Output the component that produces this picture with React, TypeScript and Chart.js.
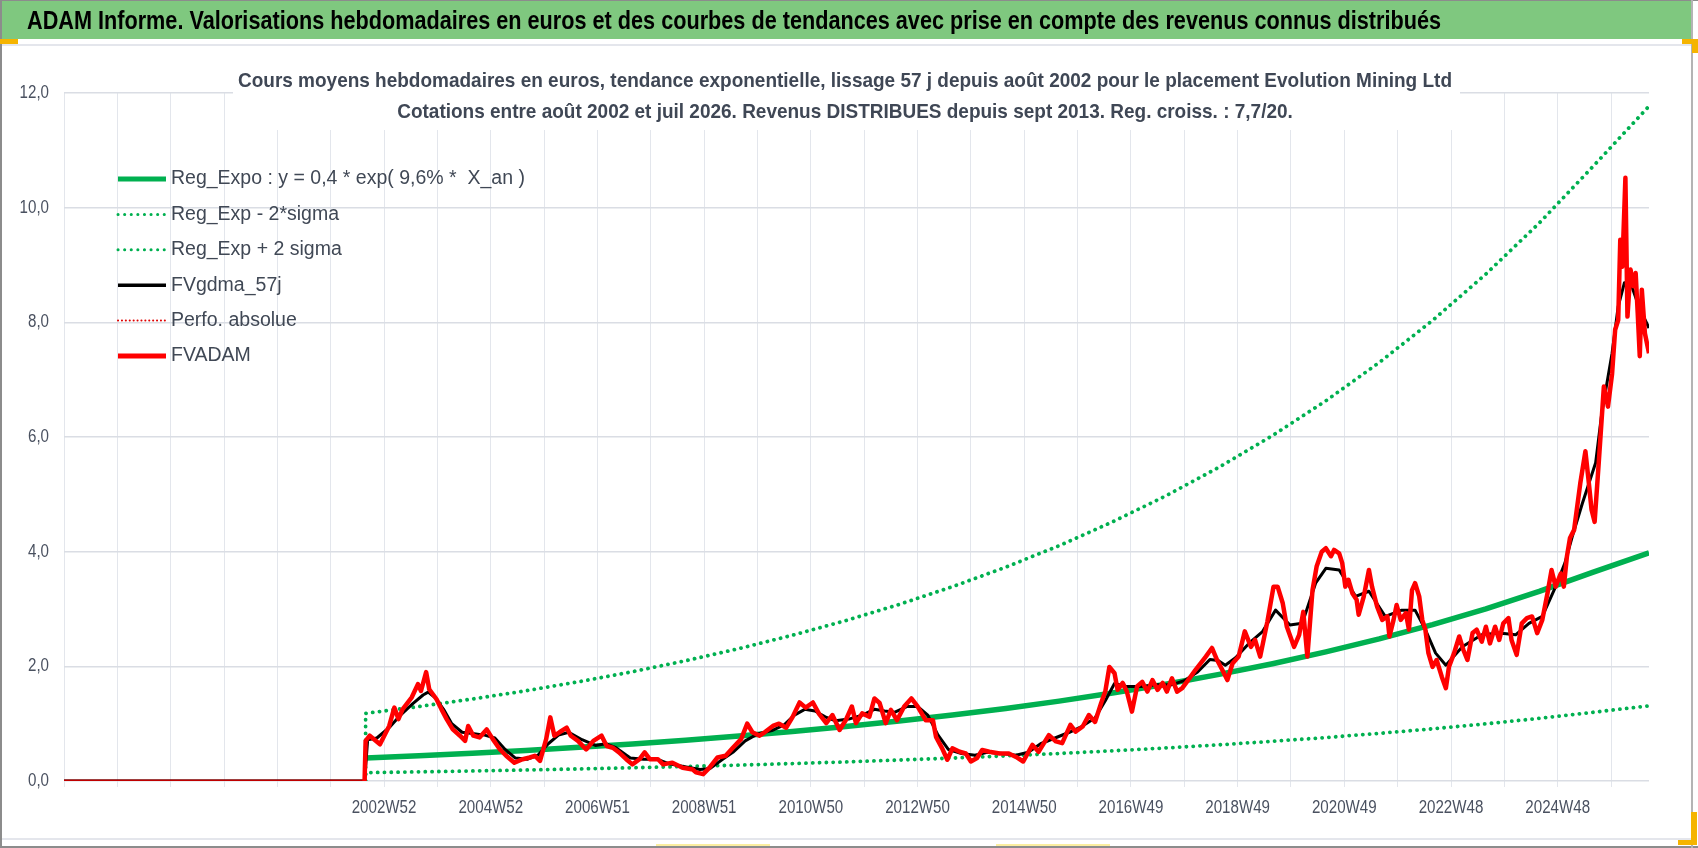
import { useEffect, useRef } from "react";
import { Chart, registerables } from "chart.js";

Chart.register(...registerables);

const W = 1698;
const H = 848;

const headerTitle =
  "ADAM Informe. Valorisations hebdomadaires en euros et des courbes de tendances avec prise en compte des revenus connus distribués";
const subTitle1 =
  "Cours moyens hebdomadaires en euros, tendance exponentielle, lissage 57 j depuis août 2002 pour le placement Evolution Mining Ltd";
const subTitle2 =
  "Cotations entre août 2002 et juil 2026. Revenus DISTRIBUES depuis sept 2013. Reg. croiss. : 7,7/20.";

// x axis: week index from the first category; one gridline every 52 weeks
const axisWeeks = 1545;
const weeksPerGridline = 52;
const xTickLabels = [
  "", "", "", "", "", "", "2002W52", "", "2004W52", "", "2006W51", "", "2008W51", "",
  "2010W50", "", "2012W50", "", "2014W50", "", "2016W49", "", "2018W49", "", "2020W49",
  "", "2022W48", "", "2024W48", "",
];
const yTicks = [0, 2, 4, 6, 8, 10, 12];

// trend curves, read once a year (week index of each reading)
const trendWeeks = [
  294, 346, 398, 450, 502, 554, 606, 658, 710, 762, 814, 866, 918, 970, 1022, 1074, 1126,
  1178, 1230, 1282, 1334, 1386, 1438, 1490, 1545,
];
const regExpo = [
  0.4, 0.44, 0.485, 0.534, 0.587, 0.646, 0.712, 0.783, 0.862, 0.949, 1.045, 1.15, 1.266,
  1.393, 1.534, 1.688, 1.859, 2.046, 2.252, 2.479, 2.729, 3.004, 3.306, 3.639, 3.98,
];
const regMinus2Sigma = [
  0.146, 0.16, 0.175, 0.192, 0.211, 0.231, 0.253, 0.277, 0.304, 0.333, 0.365, 0.399, 0.438,
  0.48, 0.526, 0.576, 0.631, 0.692, 0.758, 0.831, 0.91, 0.997, 1.093, 1.198, 1.31,
];
const regPlus2Sigma = [
  1.18, 1.299, 1.43, 1.573, 1.732, 1.906, 2.098, 2.309, 2.542, 2.797, 3.079, 3.389, 3.73,
  4.105, 4.519, 4.973, 5.474, 6.025, 6.631, 7.299, 8.033, 8.842, 9.732, 10.711, 11.77,
];

// FVADAM weekly valuation, [week index, euros]
const fvadam: [number, number][] = [
  [0, 0], [293, 0], [294, 0.7], [298, 0.79], [308, 0.64], [317, 0.96], [322, 1.28], [326, 1.08],
  [330, 1.25], [339, 1.46], [345, 1.69], [348, 1.57], [353, 1.9], [356, 1.6], [363, 1.43],
  [368, 1.25], [373, 1.08], [379, 0.9], [386, 0.79], [391, 0.7], [394, 0.96], [399, 0.79],
  [405, 0.76], [412, 0.9], [418, 0.73], [425, 0.55], [431, 0.44], [439, 0.32], [447, 0.38],
  [454, 0.41], [459, 0.44], [464, 0.35], [470, 0.73], [474, 1.11], [478, 0.79], [483, 0.85],
  [490, 0.93], [494, 0.79], [501, 0.7], [509, 0.55], [516, 0.7], [524, 0.79], [529, 0.61],
  [535, 0.58], [541, 0.5], [548, 0.38], [554, 0.29], [561, 0.38], [566, 0.5], [571, 0.38],
  [579, 0.38], [584, 0.29], [593, 0.32], [603, 0.23], [613, 0.2], [616, 0.15], [623, 0.12],
  [629, 0.23], [637, 0.41], [645, 0.44], [652, 0.58], [660, 0.73], [666, 1.0], [671, 0.85],
  [678, 0.79], [683, 0.85], [691, 0.96], [697, 1.0], [704, 0.93], [710, 1.11], [717, 1.37],
  [723, 1.28], [730, 1.37], [736, 1.17], [743, 1.01], [749, 1.15], [756, 0.89], [762, 1.06],
  [768, 1.3], [772, 1.01], [778, 1.18], [785, 1.12], [790, 1.44], [795, 1.36], [801, 1.01],
  [806, 1.24], [812, 1.06], [819, 1.3], [826, 1.44], [832, 1.3], [840, 1.06], [847, 1.06],
  [850, 0.77], [856, 0.57], [861, 0.37], [866, 0.57], [873, 0.51], [879, 0.48], [884, 0.34],
  [890, 0.4], [895, 0.54], [902, 0.51], [912, 0.48], [921, 0.48], [928, 0.42], [935, 0.34],
  [944, 0.63], [950, 0.51], [960, 0.8], [967, 0.69], [973, 0.66], [981, 0.98], [986, 0.86],
  [993, 0.95], [999, 1.15], [1005, 1.03], [1011, 1.36], [1015, 1.56], [1019, 1.99],
  [1024, 1.88], [1027, 1.59], [1032, 1.71], [1036, 1.56], [1041, 1.21], [1046, 1.65],
  [1051, 1.73], [1056, 1.56], [1061, 1.76], [1066, 1.59], [1071, 1.71], [1075, 1.56],
  [1080, 1.79], [1085, 1.56], [1090, 1.62], [1097, 1.79], [1103, 1.94], [1113, 2.17],
  [1119, 2.32], [1124, 2.11], [1129, 1.94], [1134, 1.76], [1139, 2.05], [1145, 2.17],
  [1151, 2.61], [1157, 2.34], [1161, 2.46], [1166, 2.17], [1173, 2.78], [1179, 3.39],
  [1183, 3.39], [1188, 3.1], [1192, 2.69], [1199, 2.34], [1204, 2.55], [1208, 2.95],
  [1212, 2.17], [1217, 3.33], [1221, 3.74], [1226, 4.0], [1230, 4.06], [1235, 3.92],
  [1238, 4.03], [1243, 3.97], [1246, 3.8], [1249, 3.39], [1252, 3.51], [1256, 3.27],
  [1260, 3.16], [1262, 2.9], [1267, 3.22], [1272, 3.68], [1275, 3.39], [1280, 3.04],
  [1285, 2.81], [1290, 2.87], [1292, 2.52], [1296, 2.81], [1299, 3.07], [1303, 2.81],
  [1308, 2.93], [1311, 2.64], [1314, 3.33], [1317, 3.45], [1321, 3.22], [1324, 2.81],
  [1327, 2.64], [1330, 2.23], [1334, 1.99], [1338, 2.11], [1343, 1.82], [1347, 1.62],
  [1350, 1.99], [1355, 2.23], [1360, 2.52], [1364, 2.29], [1368, 2.11], [1373, 2.58],
  [1377, 2.64], [1382, 2.43], [1386, 2.69], [1390, 2.4], [1395, 2.69], [1399, 2.46],
  [1403, 2.75], [1408, 2.84], [1411, 2.46], [1416, 2.2], [1421, 2.75], [1426, 2.84],
  [1431, 2.87], [1436, 2.58], [1441, 2.81], [1446, 3.27], [1450, 3.68], [1454, 3.39],
  [1459, 3.62], [1462, 3.39], [1465, 3.92], [1468, 4.24], [1472, 4.38], [1478, 5.19],
  [1483, 5.75], [1486, 5.26], [1489, 4.73], [1492, 4.52], [1496, 5.55], [1501, 6.88],
  [1505, 6.53], [1509, 7.1], [1512, 7.87], [1515, 8.04], [1517, 9.44], [1519, 8.97],
  [1522, 10.52], [1524, 8.1], [1527, 8.92], [1530, 8.63], [1532, 8.86], [1534, 8.16],
  [1536, 7.41], [1538, 8.57], [1541, 7.81], [1545, 7.46],
];

// FVgdma_57j smoothed valuation, [week index, euros]
const fvgdma57: [number, number][] = [
  [0, 0], [293, 0], [296, 0.72], [305, 0.75], [318, 0.95], [328, 1.15], [340, 1.35],
  [350, 1.5], [355, 1.55], [362, 1.45], [370, 1.25], [378, 1.0], [388, 0.85], [398, 0.83],
  [410, 0.8], [420, 0.75], [430, 0.55], [440, 0.4], [452, 0.38], [462, 0.45], [472, 0.65],
  [482, 0.8], [492, 0.85], [505, 0.72], [518, 0.62], [528, 0.65], [538, 0.58], [552, 0.4],
  [565, 0.38], [578, 0.38], [590, 0.3], [605, 0.25], [620, 0.2], [630, 0.22], [642, 0.38],
  [652, 0.5], [664, 0.7], [676, 0.82], [690, 0.88], [702, 0.98], [712, 1.15], [722, 1.25],
  [732, 1.22], [742, 1.12], [752, 1.05], [765, 1.08], [778, 1.15], [790, 1.25], [800, 1.22],
  [810, 1.2], [822, 1.3], [832, 1.3], [842, 1.15], [852, 0.8], [862, 0.55], [875, 0.48],
  [888, 0.45], [900, 0.5], [915, 0.48], [928, 0.45], [940, 0.5], [952, 0.65], [966, 0.75],
  [980, 0.85], [992, 0.95], [1005, 1.1], [1015, 1.4], [1024, 1.7], [1035, 1.65],
  [1050, 1.65], [1065, 1.68], [1080, 1.68], [1092, 1.75], [1105, 1.9], [1117, 2.12],
  [1125, 2.1], [1132, 2.02], [1142, 2.15], [1155, 2.4], [1168, 2.6], [1181, 2.98],
  [1195, 2.72], [1207, 2.75], [1220, 3.45], [1230, 3.71], [1243, 3.68], [1259, 3.22],
  [1272, 3.31], [1288, 2.87], [1304, 2.98], [1317, 2.98], [1327, 2.64], [1337, 2.23],
  [1347, 2.02], [1363, 2.34], [1382, 2.55], [1399, 2.58], [1415, 2.55], [1428, 2.75],
  [1441, 2.87], [1454, 3.39], [1463, 3.8], [1470, 4.25], [1480, 4.84], [1493, 5.55],
  [1499, 6.42], [1509, 7.46], [1515, 8.28], [1521, 8.69], [1527, 8.69], [1535, 8.28],
  [1545, 7.9],
];

// Perfo. absolue: only visible along the zero line before the first quotation
const perfoAbsolue: [number, number][] = [
  [0, 0], [293, 0],
];

const toXY = (pts: [number, number][]) => pts.map(([x, y]) => ({ x, y }));
const trendXY = (vals: number[]) => vals.map((y, i) => ({ x: trendWeeks[i], y }));

const GREEN = "#00b050";
const RED = "#ff0000";
const DARK_RED = "#c00000";
const TEXT = "#404855";
const TICK_COLOR = "#4a5160";
const TEXT_FONT = "'Liberation Sans', Arial, sans-serif";
const NARROW = 0.84;

const framePlugin = {
  id: "frame",
  beforeDraw(chart: any) {
    const ctx = chart.ctx as CanvasRenderingContext2D;
    ctx.save();
    ctx.fillStyle = "#ffffff";
    ctx.fillRect(0, 0, W, H);
    // green header band
    ctx.fillStyle = "#7fc87f";
    ctx.fillRect(0, 0, 1692, 39);
    ctx.fillStyle = "#000000";
    ctx.font = `bold 26px ${TEXT_FONT}`;
    ctx.textBaseline = "middle";
    ctx.textAlign = "left";
    ctx.fillText(headerTitle, 27, 22, 1414);
    // light separators
    ctx.fillStyle = "#e4e6ec";
    ctx.fillRect(0, 44, 1692, 2);
    ctx.fillRect(0, 838, 1692, 2);
    // outer borders
    ctx.fillStyle = "#8c8c8c";
    ctx.fillRect(0, 0, W, 1);
    ctx.fillRect(0, 0, 2, H);
    ctx.fillRect(0, 846, W, 2);
    ctx.fillStyle = "#b4b4b4";
    ctx.fillRect(1691, 0, 2, H);
    // selection handles
    ctx.fillStyle = "#f5b400";
    ctx.fillRect(0, 39, 18, 5);
    ctx.fillRect(1682, 39, 16, 5);
    ctx.fillRect(1692, 39, 6, 14);
    ctx.fillRect(1691, 812, 6, 33);
    ctx.fillRect(1678, 840, 19, 5);
    ctx.fillStyle = "#fbeea0";
    ctx.fillRect(656, 844, 114, 2);
    ctx.fillRect(996, 844, 114, 2);
    ctx.restore();
  },
};

// tick labels drawn through the scales, in a condensed face like the original
const tickLabelPlugin = {
  id: "tickLabels",
  afterDraw(chart: any) {
    const ctx = chart.ctx as CanvasRenderingContext2D;
    const xs = chart.scales.x;
    const ys = chart.scales.y;
    ctx.save();
    ctx.fillStyle = TICK_COLOR;
    ctx.font = `18px ${TEXT_FONT}`;
    ctx.textBaseline = "middle";
    ctx.textAlign = "center";
    xTickLabels.forEach((lab, i) => {
      if (!lab) return;
      const px = xs.getPixelForValue(i * weeksPerGridline);
      const w = ctx.measureText(lab).width;
      ctx.fillText(lab, px, chart.chartArea.bottom + 27, w * NARROW);
    });
    ctx.textAlign = "right";
    yTicks.forEach((v) => {
      const lab = v.toFixed(1).replace(".", ",");
      const py = ys.getPixelForValue(v);
      const w = ctx.measureText(lab).width;
      ctx.fillText(lab, chart.chartArea.left - 15, py, w * NARROW);
    });
    ctx.restore();
  },
};

const titlePlugin = {
  id: "titleBox",
  beforeDatasetsDraw(chart: any) {
    const ctx = chart.ctx as CanvasRenderingContext2D;
    ctx.save();
    ctx.fillStyle = "#ffffff";
    ctx.fillRect(233, 56, 1227, 74);
    ctx.fillStyle = "#3f4755";
    ctx.font = `bold 21px ${TEXT_FONT}`;
    ctx.textAlign = "center";
    ctx.textBaseline = "middle";
    const w1 = ctx.measureText(subTitle1).width;
    const ratio = Math.min(1, 1214 / w1);
    const w2 = ctx.measureText(subTitle2).width;
    ctx.fillText(subTitle1, 845, 81, w1 * ratio);
    ctx.fillText(subTitle2, 845, 112, w2 * ratio);
    ctx.restore();
  },
};

const legendPlugin = {
  id: "sideLegend",
  afterDraw(chart: any) {
    const ctx = chart.ctx as CanvasRenderingContext2D;
    const a = chart.chartArea;
    const x0 = a.left + 54;
    const x1 = a.left + 102;
    const tx = a.left + 107;
    chart.data.datasets.forEach((ds: any, i: number) => {
      const y = a.top + 86 + i * 35.4;
      ctx.save();
      ctx.strokeStyle = ds.legendColor || ds.borderColor;
      ctx.lineWidth = ds.legendWidth;
      ctx.lineCap = ds.legendDash ? "round" : "butt";
      ctx.setLineDash(ds.legendDash || []);
      ctx.beginPath();
      ctx.moveTo(x0, y);
      ctx.lineTo(x1, y);
      ctx.stroke();
      ctx.setLineDash([]);
      ctx.fillStyle = TEXT;
      ctx.font = `19.5px ${TEXT_FONT}`;
      ctx.textAlign = "left";
      ctx.textBaseline = "middle";
      ctx.fillText(ds.label, tx, y);
      ctx.restore();
    });
  },
};

export default function App() {
  const ref = useRef<HTMLCanvasElement>(null);

  useEffect(() => {
    document.body.style.margin = "0";
    const canvas = ref.current;
    if (!canvas) return;
    const chart = new Chart(canvas, {
      type: "line",
      data: {
        datasets: [
          {
            label: "Reg_Expo : y = 0,4 * exp( 9,6% *  X_an )",
            data: trendXY(regExpo),
            borderColor: GREEN,
            borderWidth: 5.5,
            order: 3,
            legendWidth: 5,
          } as any,
          {
            label: "Reg_Exp - 2*sigma",
            data: [{ x: 294, y: 0 }, ...trendXY(regMinus2Sigma)],
            borderColor: GREEN,
            borderWidth: 3.8,
            borderDash: [0.1, 6.7],
            borderCapStyle: "round",
            order: 4,
            legendWidth: 3,
            legendDash: [0.1, 6.5],
          } as any,
          {
            label: "Reg_Exp + 2 sigma",
            data: [{ x: 294, y: 0 }, ...trendXY(regPlus2Sigma)],
            borderColor: GREEN,
            borderWidth: 3.8,
            borderDash: [0.1, 6.7],
            borderCapStyle: "round",
            order: 5,
            legendWidth: 3,
            legendDash: [0.1, 6.5],
          } as any,
          {
            label: "FVgdma_57j",
            data: toXY(fvgdma57),
            borderColor: "#000000",
            borderWidth: 3,
            order: 2,
            legendWidth: 3.5,
          } as any,
          {
            label: "Perfo. absolue",
            data: toXY(perfoAbsolue),
            borderColor: DARK_RED,
            borderWidth: 2,
            borderDash: [0.1, 3.6],
            borderCapStyle: "round",
            order: 1,
            legendColor: "#e00000",
            legendWidth: 2,
            legendDash: [0.1, 3.8],
          } as any,
          {
            label: "FVADAM",
            data: toXY(fvadam),
            borderColor: RED,
            borderWidth: 4.5,
            order: 0,
            legendWidth: 5,
            segment: {
              borderColor: (c: any) =>
                c.p0.parsed.y === 0 && c.p1.parsed.y === 0 ? DARK_RED : undefined,
              borderWidth: (c: any) =>
                c.p0.parsed.y === 0 && c.p1.parsed.y === 0 ? 3 : undefined,
            },
          } as any,
        ],
      },
      options: {
        responsive: false,
        animation: false,
        devicePixelRatio: 1,
        layout: { padding: { top: 93, right: 49, left: 0, bottom: 0 } },
        elements: {
          point: { radius: 0, hoverRadius: 0 },
          line: { tension: 0, borderJoinStyle: "round" },
        },
        plugins: {
          legend: { display: false },
          title: { display: false },
          tooltip: { enabled: false },
        },
        scales: {
          x: {
            type: "linear",
            min: 0,
            max: axisWeeks,
            afterBuildTicks: (scale: any) => {
              scale.ticks = xTickLabels.map((_, i) => ({ value: i * weeksPerGridline }));
            },
            afterFit: (scale: any) => {
              scale.height = 67;
            },
            border: { display: false },
            grid: { color: "#e3e6ec", lineWidth: 1, drawTicks: true, tickLength: 6 },
            ticks: { display: false, autoSkip: false, maxRotation: 0 },
          },
          y: {
            type: "linear",
            min: 0,
            max: 12,
            afterBuildTicks: (scale: any) => {
              scale.ticks = yTicks.map((v) => ({ value: v }));
            },
            afterFit: (scale: any) => {
              scale.width = 64;
            },
            border: { display: false },
            grid: { color: "#dadde4", lineWidth: 1.6, drawTicks: false },
            ticks: { display: false },
          },
        },
      } as any,
      plugins: [framePlugin, titlePlugin, legendPlugin, tickLabelPlugin],
    });
    return () => chart.destroy();
  }, []);

  return (
    <div style={{ position: "relative", width: W, height: H, overflow: "hidden", background: "#fff" }}>
      <canvas ref={ref} width={W} height={H} style={{ display: "block", width: W, height: H }} />
    </div>
  );
}
